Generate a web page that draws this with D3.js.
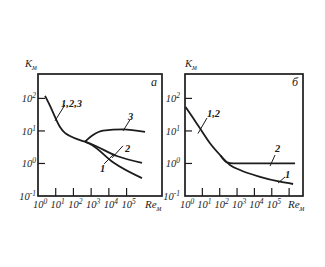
<!DOCTYPE html>
<html>
<head>
<meta charset="utf-8">
<script src="https://cdn.jsdelivr.net/npm/d3@7"></script>
<style>
  body { margin: 0; background: #fff; }
  text { font-family: "Liberation Serif", serif; font-style: italic; fill: #1c1c1c; }
</style>
</head>
<body>
<svg id="chart" width="325" height="267"></svg>
<script>
// Tick exponents
const xTickExp = [0, 1, 2, 3, 4, 5];
const yTickExp = [-1, 0, 1, 2];

// Panel a (Re_m, K_m)
const aCommon = [[2.5, 120], [4.8, 59], [9.1, 27], [17.5, 13.2], [33, 8.7], [64, 7.0], [235, 5.2], [450, 4.7]];
const aCurve3 = [[450, 4.7], [1280, 7.5], [4700, 10.2], [63000, 11.2], [1100000, 9.3]];
const aCurve2 = [[450, 4.7], [1100, 3.9], [28000, 1.7], [740000, 1.04]];
const aCurve1 = [[450, 4.7], [1100, 3.7], [18000, 1.07], [740000, 0.355]];

// Panel б
const bCommon = [[1.1, 54], [3, 24.5], [7.3, 12], [27.5, 4.2], [105, 1.82]];
const bCurve2 = [[105, 1.82], [263, 1.08], [600, 1.0], [2200000, 1.0]];
const bCurve1 = [[105, 1.82], [390, 0.9], [1480, 0.63], [21000, 0.39], [300000, 0.275], [1700000, 0.234]];

// Curve labels: text, label position, leader (data coords)
const aLabels = [
  { t: "1,2,3", at: [20, 55], lead: [[33, 63], [9.1, 20.4]] },
  { t: "3", at: [120000, 22], lead: [[156000, 22], [63000, 10]] },
  { t: "2", at: [81000, 2.26], lead: [[63000, 3.5], [15000, 1.48]] },
  { t: "1", at: [3200, 0.55], lead: [[5400, 0.97], [17000, 1.82]] },
];
const bLabels = [
  { t: "1,2", at: [18.5, 27], lead: [[18.5, 25], [5.6, 8.3]] },
  { t: "2", at: [155000, 2.26], lead: [[155000, 1.82], [79000, 0.83]] },
  { t: "1", at: [580000, 0.36], lead: [[580000, 0.385], [230000, 0.25]] },
];

const svg = d3.select("#chart");
const ink = "#1c1c1c";

function sup(t, base, exp) {
  t.append("tspan").text(base);
  t.append("tspan").attr("dy", -4).attr("font-size", 7.5).text(exp);
}

function drawPanel(opt) {
  const g = svg.append("g");
  const x = d3.scaleLog().domain([1, Math.pow(10, opt.xMax)]).range([opt.left, opt.right]);
  const y = d3.scaleLog().domain([0.1, Math.pow(10, opt.yMax)]).range([opt.bottom, opt.top]);

  // frame
  g.append("rect")
    .attr("x", opt.left).attr("y", opt.top)
    .attr("width", opt.right - opt.left).attr("height", opt.bottom - opt.top)
    .attr("fill", "none").attr("stroke", ink).attr("stroke-width", 1.7);

  // inward ticks
  const xt = opt.xTicks.map(e => Math.pow(10, e));
  g.selectAll(".xt").data(xt.filter(v => v > 1)).join("line")
    .attr("x1", d => x(d)).attr("x2", d => x(d))
    .attr("y1", opt.bottom).attr("y2", opt.bottom - 8)
    .attr("stroke", ink).attr("stroke-width", 1.2);
  const yt = yTickExp.map(e => Math.pow(10, e));
  g.selectAll(".yt").data(yt.filter(v => v > 0.1)).join("line")
    .attr("x1", opt.left).attr("x2", opt.left + 7)
    .attr("y1", d => y(d)).attr("y2", d => y(d))
    .attr("stroke", ink).attr("stroke-width", 1.2);

  // tick labels
  xTickExp.forEach(e => {
    const t = g.append("text").attr("x", x(Math.pow(10, e)) + 2).attr("y", opt.bottom + 12)
      .attr("font-size", 10.5).attr("text-anchor", "middle");
    sup(t, "10", e);
  });
  yTickExp.forEach(e => {
    const t = g.append("text").attr("x", opt.left - opt.yLabGap).attr("y", y(Math.pow(10, e)) + 4)
      .attr("font-size", 10.5).attr("text-anchor", "end");
    sup(t, "10", e);
  });
  const re = g.append("text").attr("x", opt.reX).attr("y", opt.bottom + 12).attr("font-size", 11);
  re.append("tspan").text("Re");
  re.append("tspan").attr("dy", 3).attr("font-size", 7.5).text("м");
  const k = g.append("text").attr("x", opt.kX).attr("y", opt.top - 7).attr("font-size", 10.5);
  k.append("tspan").text("K");
  k.append("tspan").attr("dy", 3).attr("font-size", 7.5).text("м");
  g.append("text").attr("x", opt.right - 11).attr("y", opt.top + 12)
    .attr("font-size", 12).text(opt.tag);

  // curves
  const line = d3.line().x(d => x(d[0])).y(d => y(d[1])).curve(d3.curveMonotoneX);
  opt.curves.forEach(c => {
    g.append("path").attr("d", line(c)).attr("fill", "none")
      .attr("stroke", ink).attr("stroke-width", 1.8);
  });

  // labels with leaders
  const lead = d3.line().x(d => x(d[0])).y(d => y(d[1]));
  opt.labels.forEach(l => {
    g.append("text").attr("x", x(l.at[0])).attr("y", y(l.at[1]))
      .attr("font-size", 10.5).attr("font-weight", "bold").text(l.t);
    g.append("path").attr("d", lead(l.lead)).attr("fill", "none")
      .attr("stroke", ink).attr("stroke-width", 1);
  });
}

drawPanel({
  left: 38, right: 162, top: 74, bottom: 196, xMax: 7.0, yMax: 2.75,
  xTicks: xTickExp, reX: 145, kX: 25, yLabGap: 2, tag: "a",
  curves: [aCommon, aCurve3, aCurve2, aCurve1], labels: aLabels
});
drawPanel({
  left: 185, right: 303, top: 74, bottom: 196, xMax: 6.8, yMax: 2.75,
  xTicks: xTickExp.concat([6]), reX: 288, kX: 185, yLabGap: 5, tag: "б",
  curves: [bCommon, bCurve2, bCurve1], labels: bLabels
});
</script>
</body>
</html>
